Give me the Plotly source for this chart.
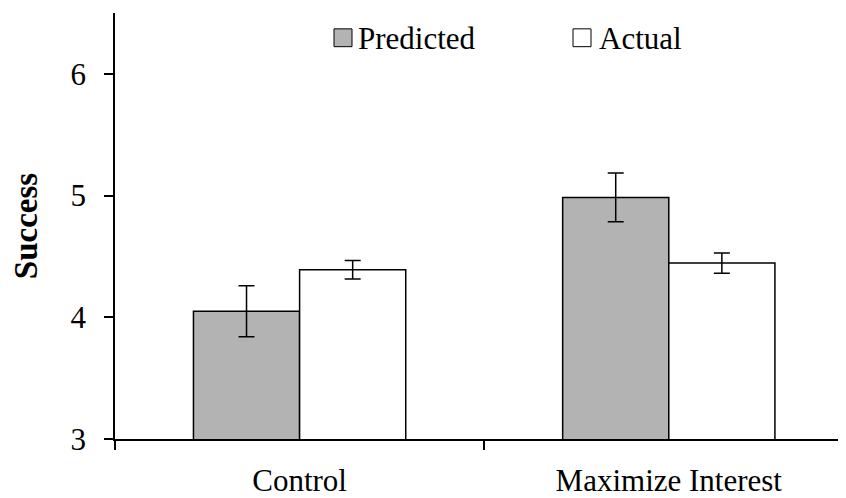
import plotly.graph_objects as go

categories = ["Control", "Maximize Interest"]
predicted = [4.05, 4.985]
predicted_err = [0.21, 0.20]
actual = [4.39, 4.445]
actual_err = [0.076, 0.083]
series_names = ["Predicted", "Actual"]
y_ticks = [3, 4, 5, 6]

FONT = "Liberation Serif, Times New Roman, serif"
OFF = 8  # page body margin
W, H = 846 - OFF, 498 - OFF
L, R, T, B = 115 - OFF, 0, 13 - OFF, 55
pw, ph = W - L - R, H - T - B

fig = go.Figure()
fig.add_trace(go.Bar(
    x=categories, y=predicted, name=series_names[0],
    marker=dict(color="#b3b3b3", line=dict(color="black", width=1.5)),
    error_y=dict(type="data", array=predicted_err, color="black", thickness=1.5, width=8),
    showlegend=False,
))
fig.add_trace(go.Bar(
    x=categories, y=actual, name=series_names[1],
    marker=dict(color="white", line=dict(color="black", width=1.5)),
    error_y=dict(type="data", array=actual_err, color="black", thickness=1.5, width=8),
    showlegend=False,
))

def px_x(p):
    return (p - OFF - L) / pw

def px_y(p):
    return (H - B - (p - OFF)) / ph

# legend drawn manually (screen pixel positions)
legend_items = [
    (series_names[0], "#b3b3b3", 334, 356),
    (series_names[1], "white", 573, 597),
]
for name, color, bx, tx in legend_items:
    fig.add_shape(type="rect", xref="paper", yref="paper",
                  x0=px_x(bx), x1=px_x(bx + 18), y0=px_y(47), y1=px_y(29),
                  fillcolor=color, line=dict(color="black", width=1))
    fig.add_annotation(xref="paper", yref="paper", x=px_x(tx), y=px_y(39),
                       xanchor="left", yanchor="middle", showarrow=False,
                       text=name, font=dict(family=FONT, size=31, color="black"))

fig.update_layout(
    width=W, height=H,
    margin=dict(l=L, r=R, t=T, b=B, pad=0),
    paper_bgcolor="white", plot_bgcolor="white",
    barmode="group", bargap=0.425, bargroupgap=0,
    font=dict(family=FONT, size=31, color="black"),
    showlegend=False,
)
fig.update_xaxes(
    range=[-0.5, 1.48], showline=True, linecolor="black", linewidth=1.5,
    ticks="outside", ticklen=9, tickwidth=1.5, tickcolor="black",
    tickson="boundaries", showgrid=False, zeroline=False,
    tickfont=dict(family=FONT, size=31, color="black"),
    ticklabelstandoff=13,
)
fig.update_yaxes(
    range=[3, 6.5], tickvals=y_ticks, showline=True, linecolor="black", linewidth=1.5,
    ticks="outside", ticklen=9, tickwidth=1.5, tickcolor="black",
    showgrid=False, zeroline=False,
    tickfont=dict(family=FONT, size=31, color="black"),
    ticklabelstandoff=12,
    title=dict(text="<b>Success</b>", font=dict(family=FONT, size=33, color="black"), standoff=33),
)

fig.write_html("out.html")
